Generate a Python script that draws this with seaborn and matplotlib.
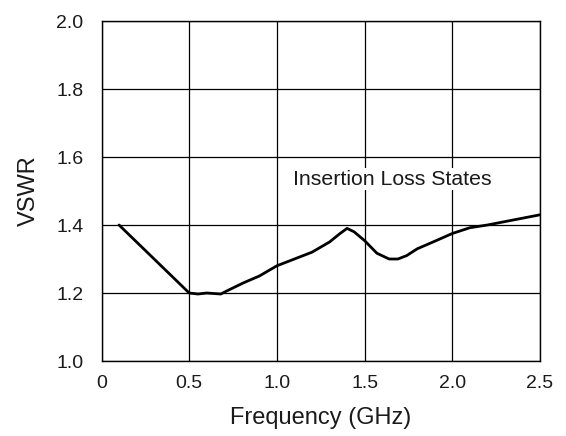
import matplotlib
matplotlib.use("Agg")
import matplotlib.pyplot as plt
import seaborn as sns
import pandas as pd

freq_ghz = [0.1, 0.5, 0.55, 0.6, 0.68, 0.73, 0.81, 0.9, 1.0, 1.1, 1.2, 1.3, 1.36, 1.4,
            1.44, 1.5, 1.57, 1.64, 1.69, 1.74, 1.8, 1.89, 2.0, 2.1, 2.2, 2.5]
vswr = [1.40, 1.20, 1.197, 1.20, 1.197, 1.21, 1.23, 1.25, 1.28, 1.30, 1.32, 1.35, 1.375, 1.39,
        1.38, 1.354, 1.317, 1.30, 1.30, 1.31, 1.33, 1.35, 1.375, 1.392, 1.40, 1.43]
x_ticks = [0, 0.5, 1.0, 1.5, 2.0, 2.5]
x_tick_labels = ["0", "0.5", "1.0", "1.5", "2.0", "2.5"]
y_ticks = [1.0, 1.2, 1.4, 1.6, 1.8, 2.0]
y_tick_labels = ["1.0", "1.2", "1.4", "1.6", "1.8", "2.0"]

sns.set_theme(style="white")
plt.rcParams['font.family'] = ['Liberation Sans', 'DejaVu Sans']

df = pd.DataFrame({"Frequency": freq_ghz, "VSWR": vswr})

fig = plt.figure(figsize=(5.66, 4.36), dpi=100)
ax = fig.add_axes([101.5 / 566, 1 - 361 / 436, (540 - 101.5) / 566, (361 - 21) / 436])

sns.lineplot(data=df, x="Frequency", y="VSWR", ax=ax, color="black", linewidth=2.0,
             sort=False, estimator=None)
ax.lines[0].set_solid_joinstyle("round")

ax.set_xlim(0, 2.5)
ax.set_ylim(1.0, 2.0)
ax.set_xticks(x_ticks)
ax.set_xticklabels(x_tick_labels)
ax.set_yticks(y_ticks)
ax.set_yticklabels(y_tick_labels)
ax.grid(True, color="black", linewidth=0.9)
ax.set_axisbelow(True)
for s in ax.spines.values():
    s.set_color("black")
    s.set_linewidth(1.0)
ax.tick_params(axis="both", length=0, labelsize=14, colors="#1a1a1a")
ax.tick_params(axis="x", pad=10)
ax.tick_params(axis="y", pad=13)

ax.set_xlabel("Frequency (GHz)", fontsize=17, color="#1a1a1a", labelpad=11)
ax.set_ylabel("VSWR", fontsize=17, color="#1a1a1a", labelpad=12)

ax.text(1.09, 1.535, "Insertion Loss States", fontsize=15.3, color="#1a1a1a",
        ha="left", va="center",
        bbox=dict(facecolor="white", edgecolor="none", pad=1))

fig.savefig("out.png", dpi=100)
